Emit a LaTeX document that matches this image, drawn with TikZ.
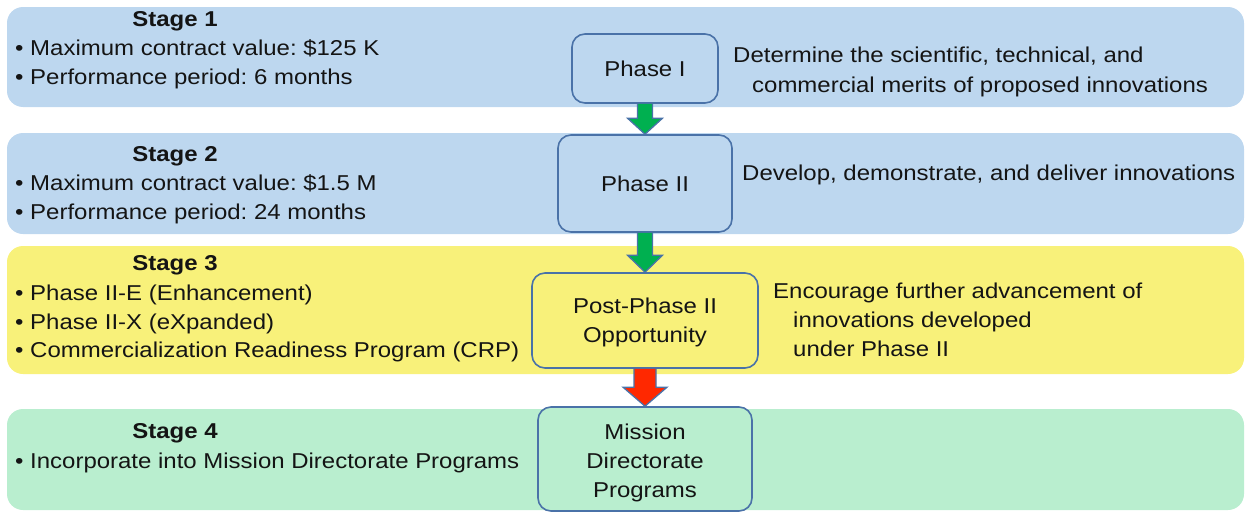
\documentclass[tikz,border=0pt]{standalone}
\usepackage{fontspec}
\setmainfont{Liberation Sans}[FakeStretch=1.115]
\usetikzlibrary{calc}
\definecolor{bandblue}{RGB}{189,215,239}
\definecolor{bandyellow}{RGB}{248,241,122}
\definecolor{bandgreen}{RGB}{185,238,207}
\definecolor{boxline}{RGB}{74,114,168}
\definecolor{arrowgreen}{RGB}{0,176,80}
\definecolor{arrowred}{RGB}{255,40,0}
\definecolor{txt}{RGB}{20,20,20}
\frenchspacing
% block arrow: from, to, shaft half width, head half width, head length, colour
\newcommand\blockarr[6]{%
  \draw[draw=boxline, line width=1.3pt, fill=#6, line join=miter]
    ($(#1.south)+(-#3,0)$) -- ($(#2.north)+(-#3,-#5)$) -- ($(#2.north)+(-#4,-#5)$)
    -- (#2.north) -- ($(#2.north)+(#4,-#5)$) -- ($(#2.north)+(#3,-#5)$) -- ($(#1.south)+(#3,0)$);}
% lowered multi-line box text
\newcommand\lowtext[2]{\raisebox{-#1}[\height][\depth]{\begin{tabular}{@{}c@{}}#2\end{tabular}}}
\begin{document}
\begin{tikzpicture}[x=1pt,y=-1pt,
  every node/.style={font=\fontsize{21.5}{29}\selectfont, inner sep=0pt, text=txt},
  band/.style={rounded corners=16pt},
  phasebox/.style={draw=boxline, line width=1.6pt, rounded corners=13pt, align=center},
  head/.style={anchor=base, font=\fontsize{21.5}{29}\selectfont\bfseries},
  item/.style={anchor=base west},
  note/.style={anchor=base west}]
\useasboundingbox (0,0) rectangle (1246,514);
% bands
\fill[bandblue, band] (7,7) rectangle (1244,107);
\fill[bandblue, band] (7,133) rectangle (1244,234);
\fill[bandyellow, band] (7,246) rectangle (1244,374);
\fill[bandgreen, band] (7,409) rectangle (1244,510);
% stage texts
\node[head] (s1) at (175,27) {Stage 1};
\node[item] (s1a) at (15,55) {• Maximum contract value: \$125 K};
\node[item] (s1b) at (15,84) {• Performance period: 6 months};
\node[head] (s2) at (175,161) {Stage 2};
\node[item] (s2a) at (15,190) {• Maximum contract value: \$1.5 M};
\node[item] (s2b) at (15,219) {• Performance period: 24 months};
\node[head] (s3) at (175,270) {Stage 3};
\node[item] (s3a) at (15,300) {• Phase II-E (Enhancement)};
\node[item] (s3b) at (15,329) {• Phase II-X (eXpanded)};
\node[item] (s3c) at (15,357) {• Commercialization Readiness Program (CRP)};
\node[head] (s4) at (175,438) {Stage 4};
\node[item] (s4a) at (15,468) {• Incorporate into Mission Directorate Programs};
% phase boxes
\node[phasebox, fill=bandblue, minimum width=146pt, minimum height=69pt] (p1) at (645,68.5) {Phase I};
\node[phasebox, fill=bandblue, minimum width=174pt, minimum height=97pt] (p2) at (645,183.5) {Phase II};
\node[phasebox, fill=bandyellow, minimum width=226pt, minimum height=95pt] (p3) at (645,320.5) {\lowtext{2pt}{Post-Phase II\\Opportunity}};
\node[phasebox, fill=bandgreen, minimum width=214pt, minimum height=104pt] (p4) at (645,459) {\lowtext{4pt}{Mission\\Directorate\\Programs}};
% arrows
\blockarr{p1}{p2}{7.5}{17.5}{16}{arrowgreen}
\blockarr{p2}{p3}{7.5}{17.5}{17}{arrowgreen}
\blockarr{p3}{p4}{11}{22}{19}{arrowred}
% descriptions
\node[note] (d1a) at (733,62) {Determine the scientific, technical, and};
\node[note] (d1b) at (752,92) {commercial merits of proposed innovations};
\node[note] (d2) at (742,180) {Develop, demonstrate, and deliver innovations};
\node[note] (d3a) at (773,298) {Encourage further advancement of};
\node[note] (d3b) at (793,327) {innovations developed};
\node[note] (d3c) at (793,356) {under Phase II};
\end{tikzpicture}
\end{document}
